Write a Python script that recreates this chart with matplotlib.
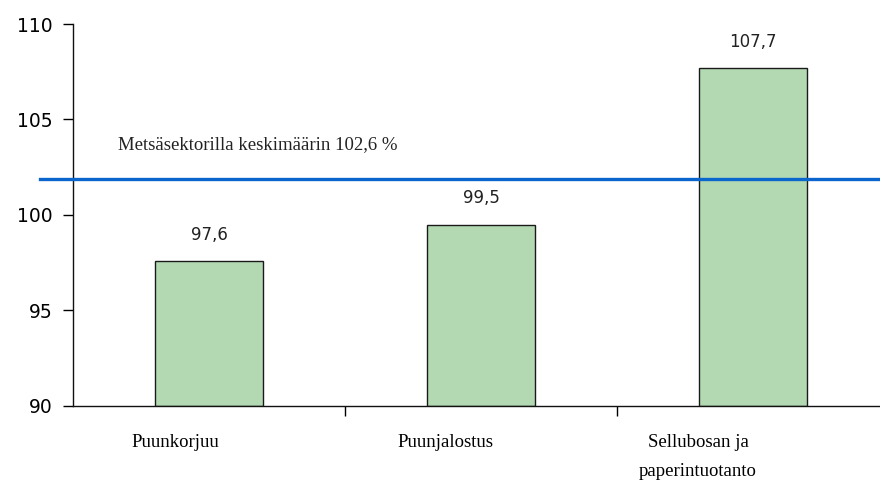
import matplotlib
matplotlib.use("Agg")
import matplotlib.pyplot as plt
import matplotlib.transforms as mtransforms

# data
categories = ["Puunkorjuu", "Puunjalostus", "Sellubosan ja\npaperintuotanto"]
values = [97.6, 99.5, 107.7]
value_labels = ["97,6", "99,5", "107,7"]
sector_avg = 101.9
avg_label = "Metsäsektorilla keskimäärin 102,6 %"
yticks = [90, 95, 100, 105, 110]

fig = plt.figure(figsize=(8.8, 4.86), dpi=100)
ax = fig.add_axes([73 / 880, 1 - 406 / 486, 1 - 73 / 880, (406 - 24) / 486])

x = range(len(categories))
ax.bar(x, [v - 90 for v in values], bottom=90, width=0.4,
       color="#b3d9b3", edgecolor="#1a1a1a", linewidth=1, zorder=2)

for xi, v, lab in zip(x, values, value_labels):
    ax.text(xi, v + 0.9, lab, ha="center", va="bottom", fontsize=12,
            family="DejaVu Sans", color="#222222")

# sector average line, reaching a bit left of the axis
trans = mtransforms.blended_transform_factory(ax.transAxes, ax.transData)
ax.plot([-33 / 807, 1], [sector_avg, sector_avg], transform=trans,
        color="#0a66cc", linewidth=2.4, clip_on=False, zorder=3)
ax.text(-0.335, 103.7, avg_label, ha="left", va="center", fontsize=13.5,
        family="Liberation Serif", color="#222222")

ax.set_ylim(90, 110)
ax.set_xlim(-0.5, 2.5 - 9 / 272)
ax.set_yticks(yticks)
ax.set_yticklabels([str(t) for t in yticks], fontsize=13.5, family="DejaVu Sans")

ax.set_xticks([0.5, 1.5])
ax.set_xticklabels([])
ax.set_xticks(list(x), minor=True)
ax.set_xticklabels(categories, minor=True, fontsize=13.5,
                   family="Liberation Serif", linespacing=1.95)
ax.tick_params(axis="x", which="major", length=7, width=1, direction="out")
ax.tick_params(axis="x", which="minor", length=0, pad=20)
ax.tick_params(axis="y", length=7, width=1, direction="out", pad=8)

# the source draws the category labels left of the bar centres
shifts = [-34, -36, -55]
for lab, dx in zip(ax.get_xticklabels(minor=True), shifts):
    lab.set_transform(lab.get_transform() +
                      mtransforms.ScaledTranslation(dx / 100, 0, fig.dpi_scale_trans))

for s in ["top", "right"]:
    ax.spines[s].set_visible(False)
for s in ["left", "bottom"]:
    ax.spines[s].set_color("#111111")
    ax.spines[s].set_linewidth(1)

fig.savefig("out.png", dpi=100)
